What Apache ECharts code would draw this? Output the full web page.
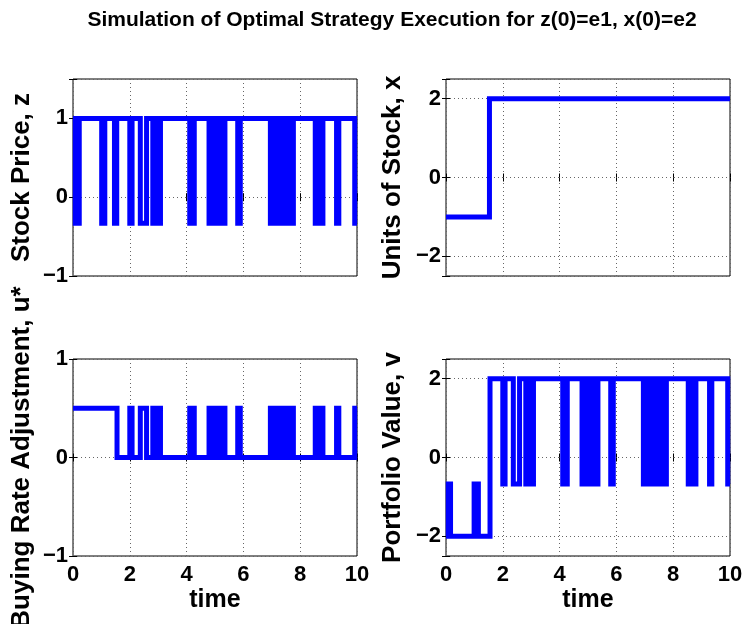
<!DOCTYPE html>
<html><head><meta charset="utf-8">
<script src="https://cdn.jsdelivr.net/npm/echarts@6/dist/echarts.min.js"></script>
<style>html,body{margin:0;padding:0;background:#fff}#c{width:747px;height:624px}</style>
</head><body><div id="c"></div>
<script>
const titleText = 'Simulation of Optimal Strategy Execution for z(0)=e1, x(0)=e2';
const xName = 'time';
const yNames = ['Stock Price, z', 'Units of Stock, x', 'Buying Rate Adjustment, u*', 'Portfolio Value, v'];
const xTicks = [0, 2, 4, 6, 8, 10];
const zTicks = [-1, 0, 1];
const xStockTicks = [-2, 0, 2];
const uTicks = [-1, 0, 1];
const vTicks = [-2, 0, 2];

// [time, new value] at each switch
const zSteps = [[0,1],[0.08,-0.33],[0.22,1],
  [1.01,-0.33],[1.12,1],[1.46,-0.33],[1.54,1],
  [2.00,-0.33],[2.08,1],[2.37,-0.33],[2.59,1],
  [2.81,-0.33],[2.89,1],[2.97,-0.33],[3.08,1],
  [4.11,-0.33],[4.27,1],
  [4.79,-0.33],[4.87,1],[4.95,-0.33],[5.03,1],[5.11,-0.33],[5.19,1],[5.27,-0.33],[5.35,1],
  [5.80,-0.33],[5.89,1],
  [6.95,-0.33],[7.03,1],[7.11,-0.33],[7.19,1],[7.27,-0.33],[7.35,1],[7.43,-0.33],[7.51,1],[7.68,-0.33],[7.76,1],
  [8.53,-0.33],[8.61,1],[8.69,-0.33],[8.80,1],
  [9.28,-0.33],[9.36,1],[9.92,-0.33],[10,-0.33]];

const xSteps = [[0,-1],[1.53,2],[10,2]];

const uSteps = [[0,0.5],[1.55,0],
  [2.00,0.5],[2.08,0],[2.37,0.5],[2.59,0],
  [2.81,0.5],[2.89,0],[2.97,0.5],[3.08,0],
  [4.11,0.5],[4.27,0],
  [4.79,0.5],[4.87,0],[4.95,0.5],[5.03,0],[5.11,0.5],[5.19,0],[5.27,0.5],[5.35,0],
  [5.80,0.5],[5.89,0],
  [6.95,0.5],[7.03,0],[7.11,0.5],[7.19,0],[7.27,0.5],[7.35,0],[7.43,0.5],[7.51,0],[7.68,0.5],[7.76,0],
  [8.53,0.5],[8.61,0],[8.69,0.5],[8.80,0],
  [9.28,0.5],[9.36,0],[9.92,0.5],[10,0.5]];

const vSteps = [[0,-2],[0.08,-0.67],[0.16,-2],[0.99,-0.67],[1.14,-2],[1.55,2],
  [2.00,-0.67],[2.08,2],[2.37,-0.67],[2.59,2],
  [2.81,-0.67],[2.89,2],[2.97,-0.67],[3.08,2],
  [4.11,-0.67],[4.27,2],
  [4.79,-0.67],[4.87,2],[4.95,-0.67],[5.03,2],[5.11,-0.67],[5.19,2],[5.27,-0.67],[5.35,2],
  [5.80,-0.67],[5.89,2],
  [6.95,-0.67],[7.03,2],[7.11,-0.67],[7.19,2],[7.27,-0.67],[7.35,2],[7.43,-0.67],[7.51,2],[7.68,-0.67],[7.76,2],
  [8.53,-0.67],[8.61,2],[8.69,-0.67],[8.80,2],
  [9.28,-0.67],[9.36,2],[9.92,-0.67],[10,-0.67]];

const FONT = '"Liberation Sans", Arial, Helvetica, sans-serif';
const fmt = v => (v < 0 ? '\u2212' + Math.abs(v) : String(v));

const grids = [
  {left: 73, top: 79, width: 284, height: 197},
  {left: 446, top: 79, width: 284, height: 197},
  {left: 73, top: 359, width: 284, height: 197},
  {left: 446, top: 359, width: 284, height: 197}
];
const yRanges = [[-1, 1.5, zTicks], [-2.5, 2.5, xStockTicks], [-1, 1, uTicks], [-2.5, 2.5, vTicks]];
const datasets = [zSteps, xSteps, uSteps, vSteps];

const gridLine = {color: '#666', width: 1, type: [1, 3]};
const tickStyle = {show: true, inside: true, length: 4, lineStyle: {color: '#000'}};
const xAxes = [], yAxes = [], series = [];
grids.forEach((g, i) => {
  const bottomRow = i >= 2;
  xAxes.push({
    type: 'value', gridIndex: i, min: 0, max: 10, interval: 2, position: 'bottom',
    axisLine: {show: false},
    axisTick: tickStyle,
    axisLabel: {show: bottomRow, margin: 8, color: '#000', fontFamily: FONT, fontWeight: 'bold', fontSize: 22,
      formatter: v => xTicks.includes(v) ? fmt(v) : ''},
    splitLine: {show: true, lineStyle: gridLine}
  });
  xAxes.push({
    type: 'value', gridIndex: i, min: 0, max: 10, interval: 2, position: 'top',
    axisLine: {show: false}, axisLabel: {show: false}, splitLine: {show: false},
    axisTick: tickStyle
  });
  const [mn, mx, ticks] = yRanges[i];
  const yBase = {type: 'value', gridIndex: i, min: mn, max: mx};
  if (mn === -1) yBase.interval = 1; else yBase.splitNumber = 3;
  yAxes.push(Object.assign({}, yBase, {
    position: 'left',
    axisLine: {show: false},
    axisTick: tickStyle,
    axisLabel: {show: true, margin: 5, color: '#000', fontFamily: FONT, fontWeight: 'bold', fontSize: 22,
      formatter: v => ticks.includes(v) ? fmt(v) : ''},
    splitLine: {show: true, lineStyle: gridLine}
  }));
  yAxes.push(Object.assign({}, yBase, {
    position: 'right',
    axisLine: {show: false}, axisLabel: {show: false}, splitLine: {show: false},
    axisTick: tickStyle
  }));
  series.push({
    type: 'line', xAxisIndex: 2 * i, yAxisIndex: 2 * i, data: datasets[i], step: 'end',
    showSymbol: false, symbol: 'none', clip: true,
    lineStyle: {color: '#0000ff', width: 5, join: 'miter', miterLimit: 2}, z: 3
  });
});

const gridOpts = grids.map(g => Object.assign({show: true, borderColor: '#000', borderWidth: 1, backgroundColor: 'transparent'}, g));

const textStyle = (txt, size) => ({text: txt, font: 'bold ' + size + 'px ' + FONT, fill: '#000', align: 'center', verticalAlign: 'middle'});
const graphics = [
  {type: 'text', x: 392, y: 20, style: textStyle(titleText, 21)},
  {type: 'text', x: 215, y: 600, style: textStyle(xName, 25)},
  {type: 'text', x: 588, y: 600, style: textStyle(xName, 25)},
  {type: 'text', x: 22, y: 177.5, rotation: Math.PI / 2, style: textStyle(yNames[0], 26)},
  {type: 'text', x: 393, y: 177.5, rotation: Math.PI / 2, style: textStyle(yNames[1], 26)},
  {type: 'text', x: 22, y: 457.5, rotation: Math.PI / 2, style: textStyle(yNames[2], 26)},
  {type: 'text', x: 393, y: 457.5, rotation: Math.PI / 2, style: textStyle(yNames[3], 26)}
];

const chart = echarts.init(document.getElementById('c'), null, {renderer: 'canvas'});
chart.setOption({
  animation: false,
  backgroundColor: '#fff',
  grid: gridOpts,
  xAxis: xAxes,
  yAxis: yAxes,
  series: series,
  graphic: graphics
});
</script></body></html>
